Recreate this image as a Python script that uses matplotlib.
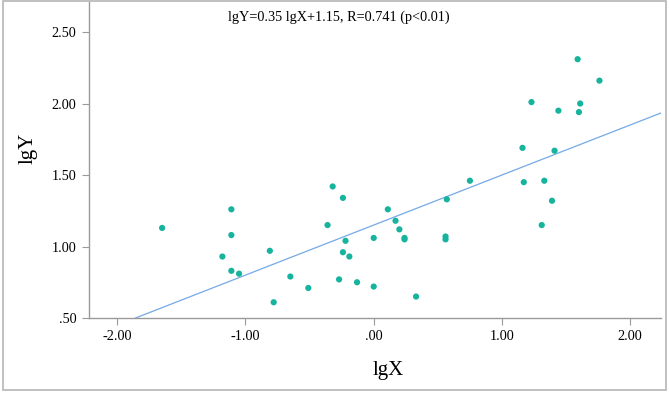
import matplotlib
matplotlib.use("Agg")
import matplotlib.pyplot as plt
from matplotlib.patches import Rectangle

plt.rcParams['font.family'] = ['Liberation Serif', 'DejaVu Serif']

# lgX / lgY
lgx = [-1.65, -1.18, -1.11, -1.11, -1.11, -1.05, -0.81, -0.78, -0.65, -0.51,
       -0.36, -0.32, -0.27, -0.24, -0.22, -0.24, -0.19, -0.13, 0.00, 0.00,
       0.11, 0.17, 0.20, 0.24, 0.24, 0.33, 0.56, 0.56, 0.57, 0.75,
       1.16, 1.17, 1.23, 1.31, 1.33, 1.39, 1.41, 1.44, 1.59, 1.60, 1.61, 1.76]
lgy = [1.13, 0.93, 1.26, 1.08, 0.83, 0.81, 0.97, 0.61, 0.79, 0.71,
       1.15, 1.42, 0.77, 1.34, 1.04, 0.96, 0.93, 0.75, 1.06, 0.72,
       1.26, 1.18, 1.12, 1.06, 1.05, 0.65, 1.07, 1.05, 1.33, 1.46,
       1.69, 1.45, 2.01, 1.15, 1.46, 1.32, 1.67, 1.95, 2.31, 1.94, 2.00, 2.16]

slope = 0.35
intercept = 1.15
fit_text = "lgY=0.35 lgX+1.15, R=0.741 (p<0.01)"

xticks = [-2, -1, 0, 1, 2]
xtick_labels = ["-2.00", "-1.00", ".00", "1.00", "2.00"]
yticks = [0.5, 1.0, 1.5, 2.0, 2.5]
ytick_labels = [".50", "1.00", "1.50", "2.00", "2.50"]

fig = plt.figure(figsize=(6.69, 3.94), dpi=100)
W, H = 669, 394
ax = fig.add_axes([89 / W, 1 - 318 / H, (661 - 89) / W, (318 - 2) / H])

ax.scatter(lgx, lgy, s=20, color='#16b39d', edgecolors='none', zorder=3)
ax.axline((0, intercept), slope=slope, color='#74a9e8', lw=0.9, zorder=2)

ax.set_xlim(-2.22, 2.24)
ax.set_ylim(0.5, 2.71)
ax.set_xticks(xticks)
ax.set_xticklabels(xtick_labels)
ax.set_yticks(yticks)
ax.set_yticklabels(ytick_labels)
ax.tick_params(length=5, width=0.8, color='#9a9a9a', labelsize=10.3, pad=4)

for side in ['top', 'right']:
    ax.spines[side].set_visible(False)
for side in ['left', 'bottom']:
    ax.spines[side].set_color('#9a9a9a')
    ax.spines[side].set_linewidth(1.0)

# labels placed like the SPSS output
fig.text(388 / W, 1 - 370 / H, "lgX", fontsize=15, ha='center', va='center')
fig.text(28 / W, 1 - 148 / H, "lgY", fontsize=15, ha='center', va='center', rotation=90)
fig.text(339 / W, 1 - 17 / H, fit_text, fontsize=10.3, ha='center', va='center')

# outer frame
fig.patches.append(Rectangle((3 / W, 1 - 390 / H), 663 / W, 389 / H,
                             transform=fig.transFigure, fill=False,
                             edgecolor='#b5b5b5', lw=1.2))

fig.savefig("out.png", dpi=100)
